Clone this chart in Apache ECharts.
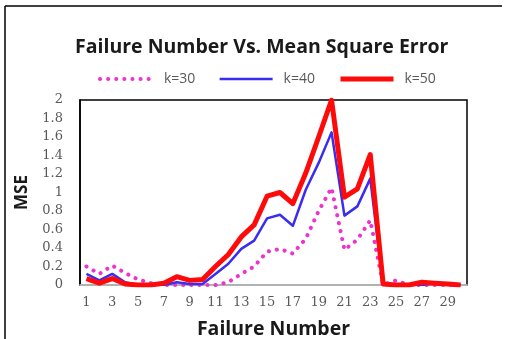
<!DOCTYPE html>
<html><head><meta charset="utf-8">
<script src="https://cdn.jsdelivr.net/npm/echarts@6/dist/echarts.min.js"></script>
<style>html,body{margin:0;padding:0;background:#fff}#c{width:506px;height:339px}</style>
</head><body><div id="c"></div>
<script>
var categories = [];
for (var i = 1; i <= 30; i++) categories.push(String(i));
var k30 = [0.2,0.12,0.21,0.13,0.06,0.02,0,0,0,0,0,0.03,0.12,0.2,0.36,0.39,0.34,0.5,0.8,1.05,0.38,0.49,0.7,0,0.05,0,0,0,0,0];
var k40 = [0.12,0.05,0.12,0.03,0,0,0,0.03,0.01,0.01,0.12,0.23,0.39,0.48,0.72,0.76,0.64,1.03,1.32,1.65,0.75,0.85,1.15,0,0,0,0,0.02,0.01,0];
var k50 = [0.07,0.02,0.07,0.01,0,0,0.02,0.09,0.05,0.06,0.2,0.33,0.52,0.65,0.96,1.0,0.88,1.21,1.6,2.0,0.95,1.04,1.41,0.01,0,0,0.03,0.02,0.01,0];
var seriesNames = ['k=30','k=40','k=50'];
var titleText = 'Failure Number Vs. Mean Square Error';

var chart = echarts.init(document.getElementById('c'));
chart.setOption({
  animation: false,
  backgroundColor: '#fff',
  title: {
    text: titleText, left: 70, top: 32,
    textStyle: {fontFamily: 'Open Sans', fontWeight: 'bold', fontSize: 19.5, color: '#1a1a1a'}
  },
  legend: {
    top: 67, left: 93, itemWidth: 53, itemHeight: 12, itemGap: 23, icon: 'inherit',
    itemStyle: {opacity: 0, borderWidth: 0},
    lineStyle: {width: 'inherit'},
    textStyle: {fontFamily: 'Open Sans', fontSize: 14, color: '#595959', padding: [0, 0, 0, 6]},
    data: seriesNames
  },
  grid: {left: 80, top: 100, width: 387, height: 185, show: true, borderColor: '#000', borderWidth: 1.5,
         outerBoundsMode: 'none', containLabel: false},
  xAxis: {
    type: 'category', data: categories, boundaryGap: true,
    name: 'Failure Number', nameLocation: 'middle', nameGap: 34,
    nameTextStyle: {fontFamily: 'Open Sans', fontWeight: 'bold', fontSize: 19.5, color: '#1a1a1a'},
    axisLine: {lineStyle: {color: '#d9d9d9', width: 1.5}},
    axisTick: {show: false},
    axisLabel: {interval: 1, color: '#595959', fontFamily: 'DejaVu Serif', fontSize: 13, margin: 11},
    splitLine: {show: false}
  },
  yAxis: {
    type: 'value', min: 0, max: 2, interval: 0.2,
    name: 'MSE', nameLocation: 'middle', nameGap: 49, nameRotate: 90,
    nameTextStyle: {fontFamily: 'Open Sans', fontWeight: 'bold', fontSize: 17, color: '#1a1a1a'},
    axisLine: {show: true, lineStyle: {color: '#000', width: 1.5}},
    axisTick: {show: false},
    axisLabel: {color: '#595959', fontFamily: 'DejaVu Serif', fontSize: 13, margin: 17},
    splitLine: {show: false}
  },
  graphic: [
    {type: 'line', shape: {x1: 5, y1: 6, x2: 502, y2: 6}, style: {stroke: '#000', lineWidth: 1.5}},
    {type: 'line', shape: {x1: 5, y1: 6, x2: 5, y2: 339}, style: {stroke: '#000', lineWidth: 1.5}}
  ],
  series: [
    {name: seriesNames[0], type: 'line', data: k30, symbol: 'none', z: 2,
     lineStyle: {color: '#ee33cc', width: 4, type: [0.1, 8], cap: 'round', join: 'round'},
     itemStyle: {color: '#ee33cc'}},
    {name: seriesNames[1], type: 'line', data: k40, symbol: 'none', z: 3,
     lineStyle: {color: '#3a2cf0', width: 2.5, join: 'round'},
     itemStyle: {color: '#3a2cf0'}},
    {name: seriesNames[2], type: 'line', data: k50, symbol: 'none', z: 4,
     lineStyle: {color: '#ff0a0a', width: 5, join: 'round'},
     itemStyle: {color: '#ff0a0a'}}
  ]
});
</script></body></html>
